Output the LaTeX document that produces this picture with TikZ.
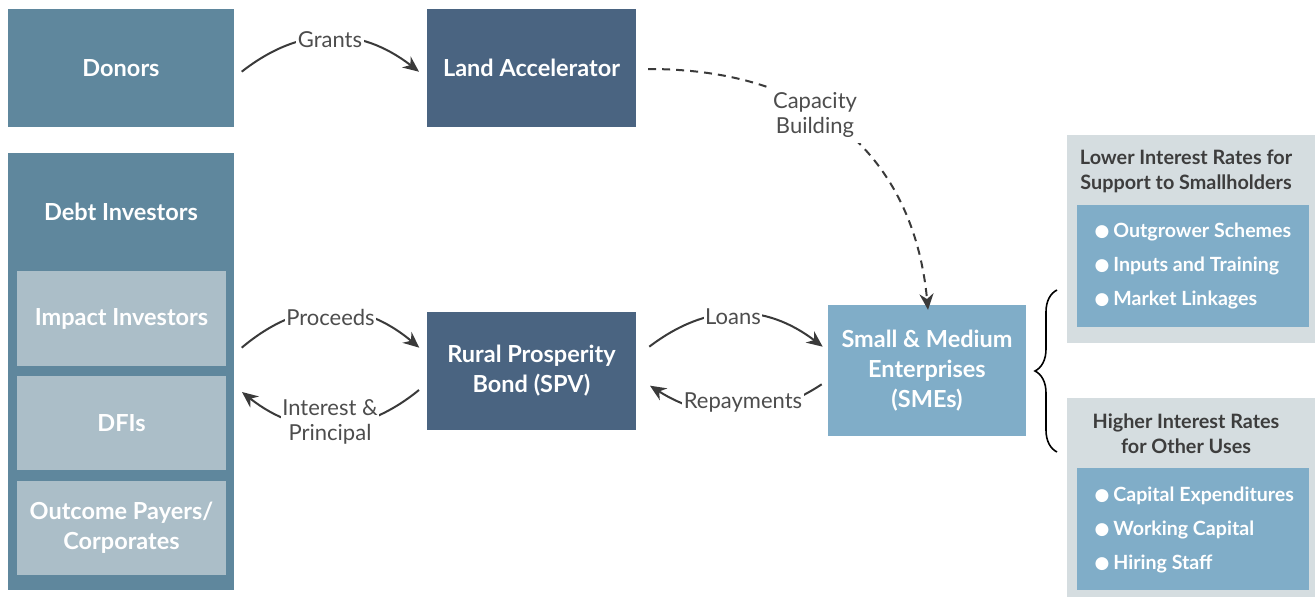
\documentclass[tikz,border=0pt]{standalone}
\usepackage{fontspec}
\setmainfont{Lato}
\newfontfamily\dej{DejaVu Sans}
\usetikzlibrary{arrows.meta,decorations.pathreplacing}
\definecolor{cDonor}{HTML}{5F879D}
\definecolor{cDark}{HTML}{4A6481}
\definecolor{cInner}{HTML}{ABBEC8}
\definecolor{cSme}{HTML}{80ADC8}
\definecolor{cGray}{HTML}{D5DDE0}
\definecolor{cArrow}{HTML}{3A3A3A}
\definecolor{cLabel}{HTML}{4D4D4D}
\definecolor{cTitle}{HTML}{3D3D3D}
\newcommand{\bul}{\raisebox{1pt}{\dej\fontsize{17}{17}\selectfont ●}\hspace{4pt}}
\begin{document}
\begin{tikzpicture}[x=1pt,y=-1pt,
  box/.style={rectangle, inner sep=0pt, text=white, font=\bfseries\fontsize{23.5}{30}\selectfont, align=center},
  lbl/.style={fill=white, inner sep=1.5pt, text=cLabel, font=\fontsize{22}{25}\selectfont, align=center},
  flow/.style={draw=cArrow, line width=2pt, -{Stealth[length=16pt,width=14pt]}},
  ttl/.style={text=cTitle, font=\bfseries\fontsize{19.8}{25}\selectfont, align=center},
  blist/.style={text=white, font=\bfseries\fontsize{19.6}{34}\selectfont, align=left, anchor=west}
]
\useasboundingbox (0,0) rectangle (1315,597);
% left column
\node[box, fill=cDonor, minimum width=226pt, minimum height=118pt] (donors) at (121,68) {Donors};
\node[box, fill=cDonor, minimum width=226pt, minimum height=437pt] (debt) at (121,371.5) {};
\node[box] (debtt) at (121,212) {Debt Investors};
\node[box, fill=cInner, minimum width=209pt, minimum height=95pt] (impact) at (121.5,318.5) {Impact Investors};
\node[box, fill=cInner, minimum width=209pt, minimum height=94pt] (dfi) at (121.5,423) {DFIs};
\node[box, fill=cInner, minimum width=209pt, minimum height=94pt] (outcome) at (121.5,528) {Outcome Payers/\\Corporates};
% middle
\node[box, fill=cDark, minimum width=209pt, minimum height=118pt] (land) at (531.5,68) {Land Accelerator};
\node[box, fill=cDark, minimum width=209pt, minimum height=118pt] (rpb) at (531.5,371) {Rural Prosperity\\Bond (SPV)};
\node[box, fill=cSme, minimum width=198pt, minimum height=131pt] (sme) at (927,370.5) {Small \& Medium\\Enterprises\\(SMEs)};
% right
\node[rectangle, fill=cGray, minimum width=248pt, minimum height=208pt, inner sep=0pt] (g1) at (1191,239) {};
\node[rectangle, fill=cSme, minimum width=232pt, minimum height=122pt, inner sep=0pt] (b1) at (1193,266) {};
\node[ttl] (t1) at (1186,171) {Lower Interest Rates for\\Support to Smallholders};
\node[blist] (l1) at (1091,266) {\bul Outgrower Schemes\\\bul Inputs and Training\\\bul Market Linkages};
\node[rectangle, fill=cGray, minimum width=248pt, minimum height=199pt, inner sep=0pt] (g2) at (1191,497.5) {};
\node[rectangle, fill=cSme, minimum width=232pt, minimum height=122pt, inner sep=0pt] (b2) at (1193,529) {};
\node[ttl] (t2) at (1186,434) {Higher Interest Rates\\for Other Uses};
\node[blist] (l2) at (1091,530) {\bul Capital Expenditures\\\bul Working Capital\\\bul Hiring Staff};
% brace
\coordinate (br1) at (1057,452);
\coordinate (br2) at (1057,290);
\draw[line width=1.6pt, decorate, decoration={brace, amplitude=22pt}] (br1) -- (br2);
% connectors
\coordinate (gS) at (241.7,71.7);
\coordinate (gE) at (419,71.7);
\draw[flow] (gS) .. controls (300.5,25.7) and (359.5,25.7) .. (gE);
\node[lbl] (grants) at (330,40) {Grants};

\coordinate (pS) at (241.7,347.7);
\coordinate (pE) at (419.3,347.7);
\draw[flow] (pS) .. controls (300.6,298) and (360,298) .. (pE);
\node[lbl] (proc) at (330.5,317) {Proceeds};

\coordinate (iS) at (419,390);
\coordinate (iE) at (242,392);
\draw[flow] (iS) .. controls (360,438) and (300,438) .. (iE);
\node[lbl, inner sep=1pt] (intp) at (330,421.5) {Interest \&\\Principal};

\coordinate (lS) at (649.3,346.7);
\coordinate (lE) at (822.7,346.7);
\draw[flow] (lS) .. controls (707.1,302.6) and (764.9,302.6) .. (lE);
\node[lbl] (loans) at (733,317) {Loans};

\coordinate (rS) at (821.7,384.3);
\coordinate (rE) at (650,385.7);
\draw[flow] (rS) .. controls (764.6,422) and (707.3,422) .. (rE);
\node[lbl, inner ysep=5pt] (repay) at (743,403) {Repayments};

\coordinate (cS) at ([xshift=12pt]land.east |- 0,69);
\coordinate (cE) at ([xshift=1pt,yshift=-5pt]sme.north);
\draw[flow, dash pattern=on 8pt off 6pt] (cS) .. controls (830,69) and (915,170) .. (cE);
\node[lbl, inner sep=5pt] (cap) at (815,115) {Capacity\\Building};
\end{tikzpicture}
\end{document}
